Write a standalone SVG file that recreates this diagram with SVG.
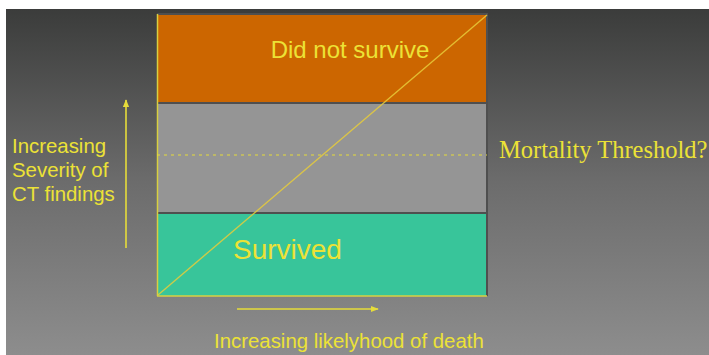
<svg xmlns="http://www.w3.org/2000/svg" width="709" height="355" viewBox="0 0 709 355">
  <defs>
    <linearGradient id="bg" x1="0" y1="0" x2="0" y2="1">
      <stop offset="0" stop-color="#3b3c3b"/>
      <stop offset="0.5" stop-color="#6c6c6c"/>
      <stop offset="1" stop-color="#8d8d8d"/>
    </linearGradient>
    <marker id="arrow" viewBox="0 0 10 10" refX="9" refY="5" markerWidth="5" markerHeight="5" orient="auto" markerUnits="strokeWidth">
      <path d="M0,1 L10,5 L0,9 Z" fill="#e6dc3a"/>
    </marker>
    <style>
      .sans { font-family: "Liberation Sans", Arial, sans-serif; fill: #ece236; }
      .serif { font-family: "Liberation Serif", "Times New Roman", serif; fill: #ece236; }
      .sep { stroke: #4f4f4f; stroke-width: 2; }
      .axis { stroke: #e6dc3a; stroke-width: 1.6; fill: none; }
    </style>
  </defs>

  <rect x="0" y="0" width="709" height="355" fill="#ffffff"/>
  <rect x="6" y="9" width="703" height="346" fill="url(#bg)"/>

  <g id="band-not-survive">
    <rect x="157" y="14" width="330" height="89" fill="#cc6600"/>
    <text class="sans" x="350" y="58" font-size="24" text-anchor="middle">Did not survive</text>
  </g>
  <g id="band-middle">
    <rect x="157" y="103" width="330" height="110" fill="#959595"/>
  </g>
  <g id="band-survived">
    <rect x="157" y="213" width="330" height="83" fill="#38c59a"/>
    <text class="sans" x="233" y="259" font-size="28">Survived</text>
  </g>

  <g id="frame">
    <line class="sep" x1="157" y1="14" x2="488" y2="14"/>
    <line class="sep" x1="157" y1="103" x2="488" y2="103"/>
    <line class="sep" x1="157" y1="213" x2="488" y2="213"/>
    <line class="sep" x1="487" y1="14" x2="487" y2="296"/>
    <line x1="157.5" y1="14" x2="157.5" y2="296" stroke="#d8d040" stroke-width="1.5"/>
    <line x1="157" y1="296" x2="487" y2="296" stroke="#d8d040" stroke-width="1.5"/>
  </g>

  <g id="connectors">
    <line x1="158" y1="295" x2="487" y2="15" stroke="#e8cc3a" stroke-width="1.4" stroke-opacity="0.85"/>
    <line x1="157" y1="155" x2="487" y2="155" stroke="#e6dc3a" stroke-width="1.2" stroke-dasharray="3,4"/>
    <line class="axis" x1="126" y1="248" x2="126" y2="100" marker-end="url(#arrow)"/>
    <line class="axis" x1="237" y1="309" x2="378" y2="309" marker-end="url(#arrow)"/>
  </g>

  <g id="threshold-label">
    <text class="serif" x="499" y="158" font-size="24.5">Mortality Threshold?</text>
  </g>
  <g id="y-label">
    <text class="sans" x="12" y="153" font-size="20.4">Increasing</text>
    <text class="sans" x="12" y="177" font-size="20.4">Severity of</text>
    <text class="sans" x="12" y="201" font-size="20.4">CT findings</text>
  </g>
  <g id="x-label">
    <text class="sans" x="214" y="348" font-size="20.4">Increasing likelyhood of death</text>
  </g>
</svg>
